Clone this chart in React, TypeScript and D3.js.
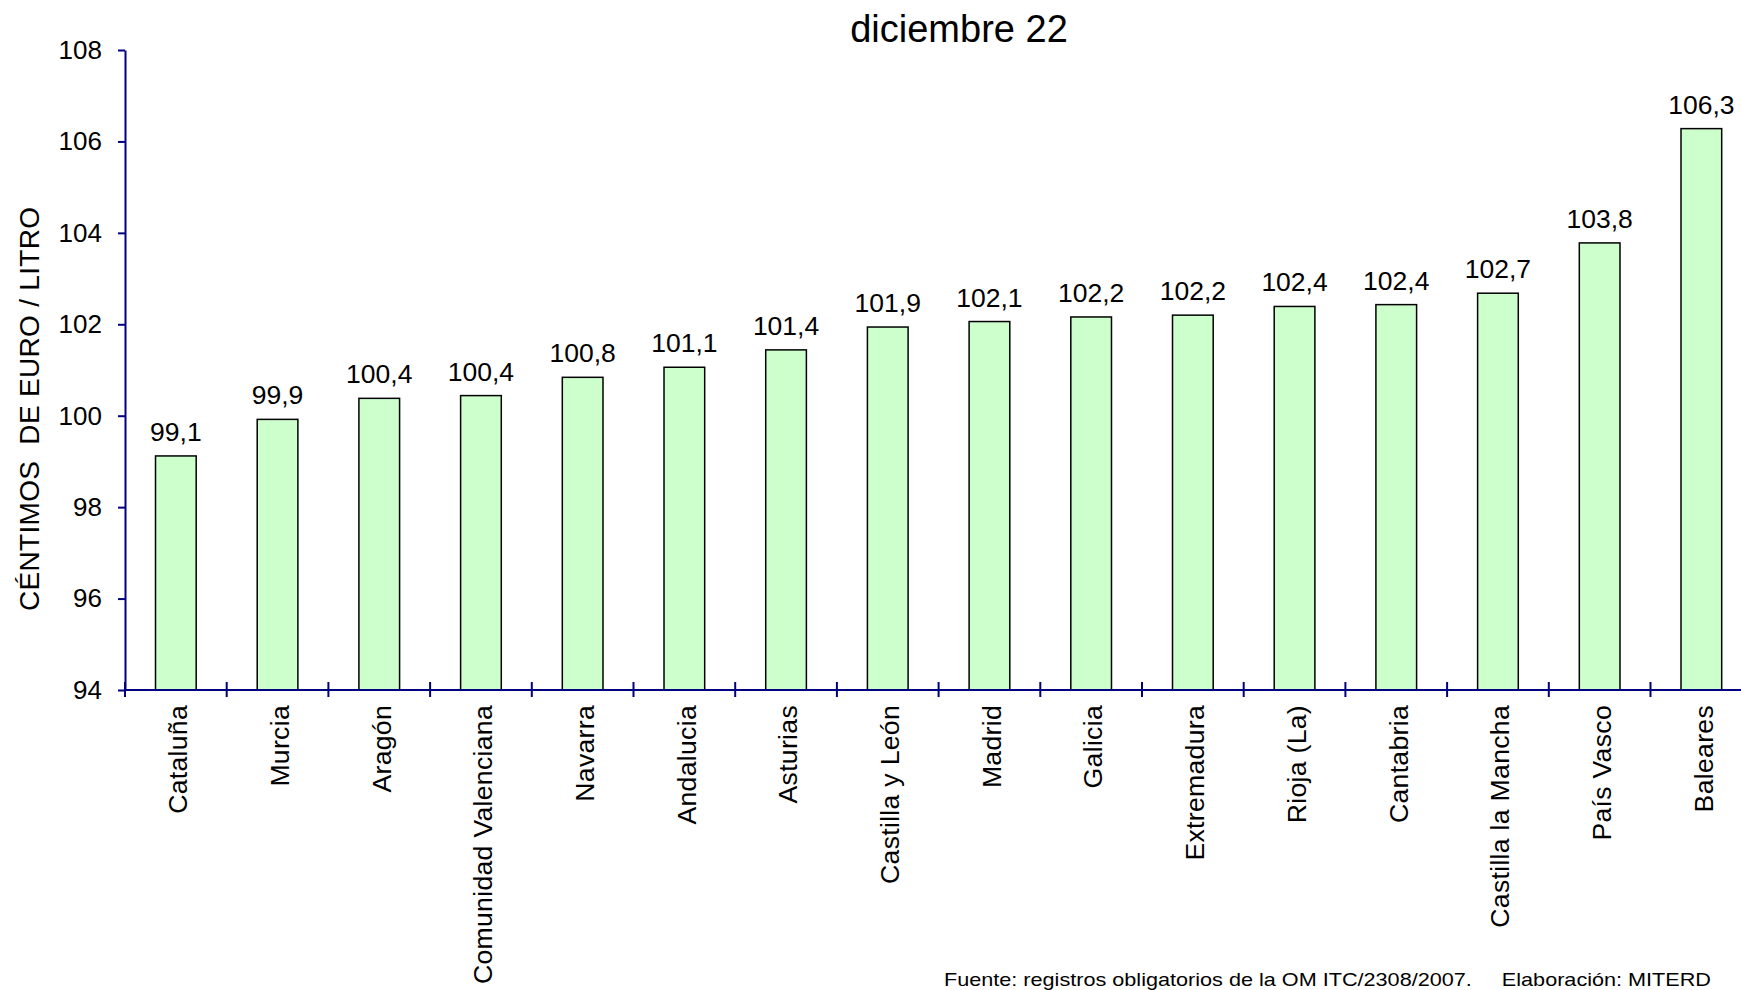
import React, { useEffect, useRef } from "react";
import * as d3 from "d3";

const regions = [
  "Cataluña",
  "Murcia",
  "Aragón",
  "Comunidad Valenciana",
  "Navarra",
  "Andalucia",
  "Asturias",
  "Castilla y León",
  "Madrid",
  "Galicia",
  "Extremadura",
  "Rioja (La)",
  "Cantabria",
  "Castilla la Mancha",
  "País Vasco",
  "Baleares",
];

const prices = [
  99.12, 99.92, 100.38, 100.44, 100.84, 101.06, 101.44, 101.94, 102.06, 102.16,
  102.2, 102.39, 102.43, 102.68, 103.78, 106.28,
];

const yTicks = [94, 96, 98, 100, 102, 104, 106, 108];

const title = "diciembre 22";
const yTitle = "CÉNTIMOS  DE EURO / LITRO";
const footer = "Fuente: registros obligatorios de la OM ITC/2308/2007.     Elaboración: MITERD";

const App: React.FC = () => {
  const svgRef = useRef<SVGSVGElement | null>(null);

  useEffect(() => {
    if (!svgRef.current) return;

    const width = 1741;
    const height = 990;
    const margin = { top: 50, left: 125, bottom: 690 };
    const bandStep = 101.7;
    const font = "'Liberation Sans', Arial, sans-serif";
    const axisColor = "#000080";

    const svg = d3.select(svgRef.current);
    svg.selectAll("*").remove();

    const x = d3
      .scaleBand()
      .domain(regions)
      .range([margin.left, margin.left + bandStep * regions.length])
      .paddingInner(0.6)
      .paddingOuter(0.3);

    const y = d3.scaleLinear().domain([94, 108]).range([margin.bottom, margin.top]);

    const data = regions.map((r, i) => ({ region: r, value: prices[i] }));

    // bars
    svg
      .selectAll(".bar")
      .data(data)
      .join("rect")
      .attr("class", "bar")
      .attr("x", (d) => x(d.region) || 0)
      .attr("y", (d) => y(d.value))
      .attr("width", x.bandwidth())
      .attr("height", (d) => y(94) - y(d.value))
      .attr("fill", "#CCFFCC")
      .attr("stroke", "#000")
      .attr("stroke-width", 1.5);

    // value labels
    svg
      .selectAll(".value-label")
      .data(data)
      .join("text")
      .attr("class", "value-label")
      .attr("x", (d) => (x(d.region) || 0) + x.bandwidth() / 2)
      .attr("y", (d) => y(d.value) - 15)
      .attr("text-anchor", "middle")
      .attr("font-family", font)
      .attr("font-size", "26.5px")
      .attr("fill", "#000")
      .text((d) => d.value.toFixed(1).replace(".", ","));

    // y axis
    const yAxis = svg
      .append("g")
      .attr("transform", `translate(${margin.left},0)`)
      .call(
        d3
          .axisLeft(y)
          .tickValues(yTicks)
          .tickSize(7)
          .tickSizeOuter(0)
          .tickPadding(16)
          .tickFormat((d) => `${d}`)
      );
    yAxis.select(".domain").attr("stroke", axisColor).attr("stroke-width", 2);
    yAxis.selectAll(".tick line").attr("stroke", axisColor).attr("stroke-width", 2);
    yAxis
      .selectAll(".tick text")
      .attr("font-family", font)
      .attr("font-size", "26px")
      .attr("fill", "#000");

    // x axis line + crossing ticks at band edges
    svg
      .append("line")
      .attr("x1", margin.left)
      .attr("x2", width)
      .attr("y1", y(94))
      .attr("y2", y(94))
      .attr("stroke", axisColor)
      .attr("stroke-width", 2);

    svg
      .selectAll(".xtick")
      .data(d3.range(regions.length + 1))
      .join("line")
      .attr("class", "xtick")
      .attr("x1", (i) => margin.left + i * x.step())
      .attr("x2", (i) => margin.left + i * x.step())
      .attr("y1", y(94) - 8)
      .attr("y2", y(94) + 7)
      .attr("stroke", axisColor)
      .attr("stroke-width", 2);

    // category labels
    svg
      .selectAll(".cat-label")
      .data(regions)
      .join("text")
      .attr("class", "cat-label")
      .attr(
        "transform",
        (d) => `translate(${(x(d) || 0) + x.bandwidth() / 2 + 2},${y(94) + 15}) rotate(-90)`
      )
      .attr("text-anchor", "end")
      .attr("dy", "0.35em")
      .attr("font-family", font)
      .attr("font-size", "26.6px")
      .attr("letter-spacing", "0.3px")
      .attr("fill", "#000")
      .text((d) => d);

    // y axis title
    svg
      .append("text")
      .attr("transform", "translate(39,409) rotate(-90)")
      .attr("text-anchor", "middle")
      .attr("font-family", font)
      .attr("font-size", "28px")
      .attr("textLength", 404)
      .attr("lengthAdjust", "spacing")
      .style("white-space", "pre")
      .attr("fill", "#000")
      .text(yTitle);

    // title
    svg
      .append("text")
      .attr("x", 959)
      .attr("y", 42)
      .attr("text-anchor", "middle")
      .attr("font-family", font)
      .attr("font-size", "38px")
      .attr("fill", "#000")
      .text(title);

    // source note at the bottom edge
    svg
      .append("text")
      .attr("x", 944)
      .attr("y", height - 4)
      .attr("font-family", font)
      .attr("font-size", "19px")
      .attr("textLength", 767)
      .attr("lengthAdjust", "spacingAndGlyphs")
      .style("white-space", "pre")
      .attr("fill", "#000")
      .text(footer);
  }, []);

  return (
    <svg
      ref={svgRef}
      width={1741}
      height={990}
      style={{ position: "absolute", left: 0, top: 0, background: "#fff" }}
    ></svg>
  );
};

export default App;
